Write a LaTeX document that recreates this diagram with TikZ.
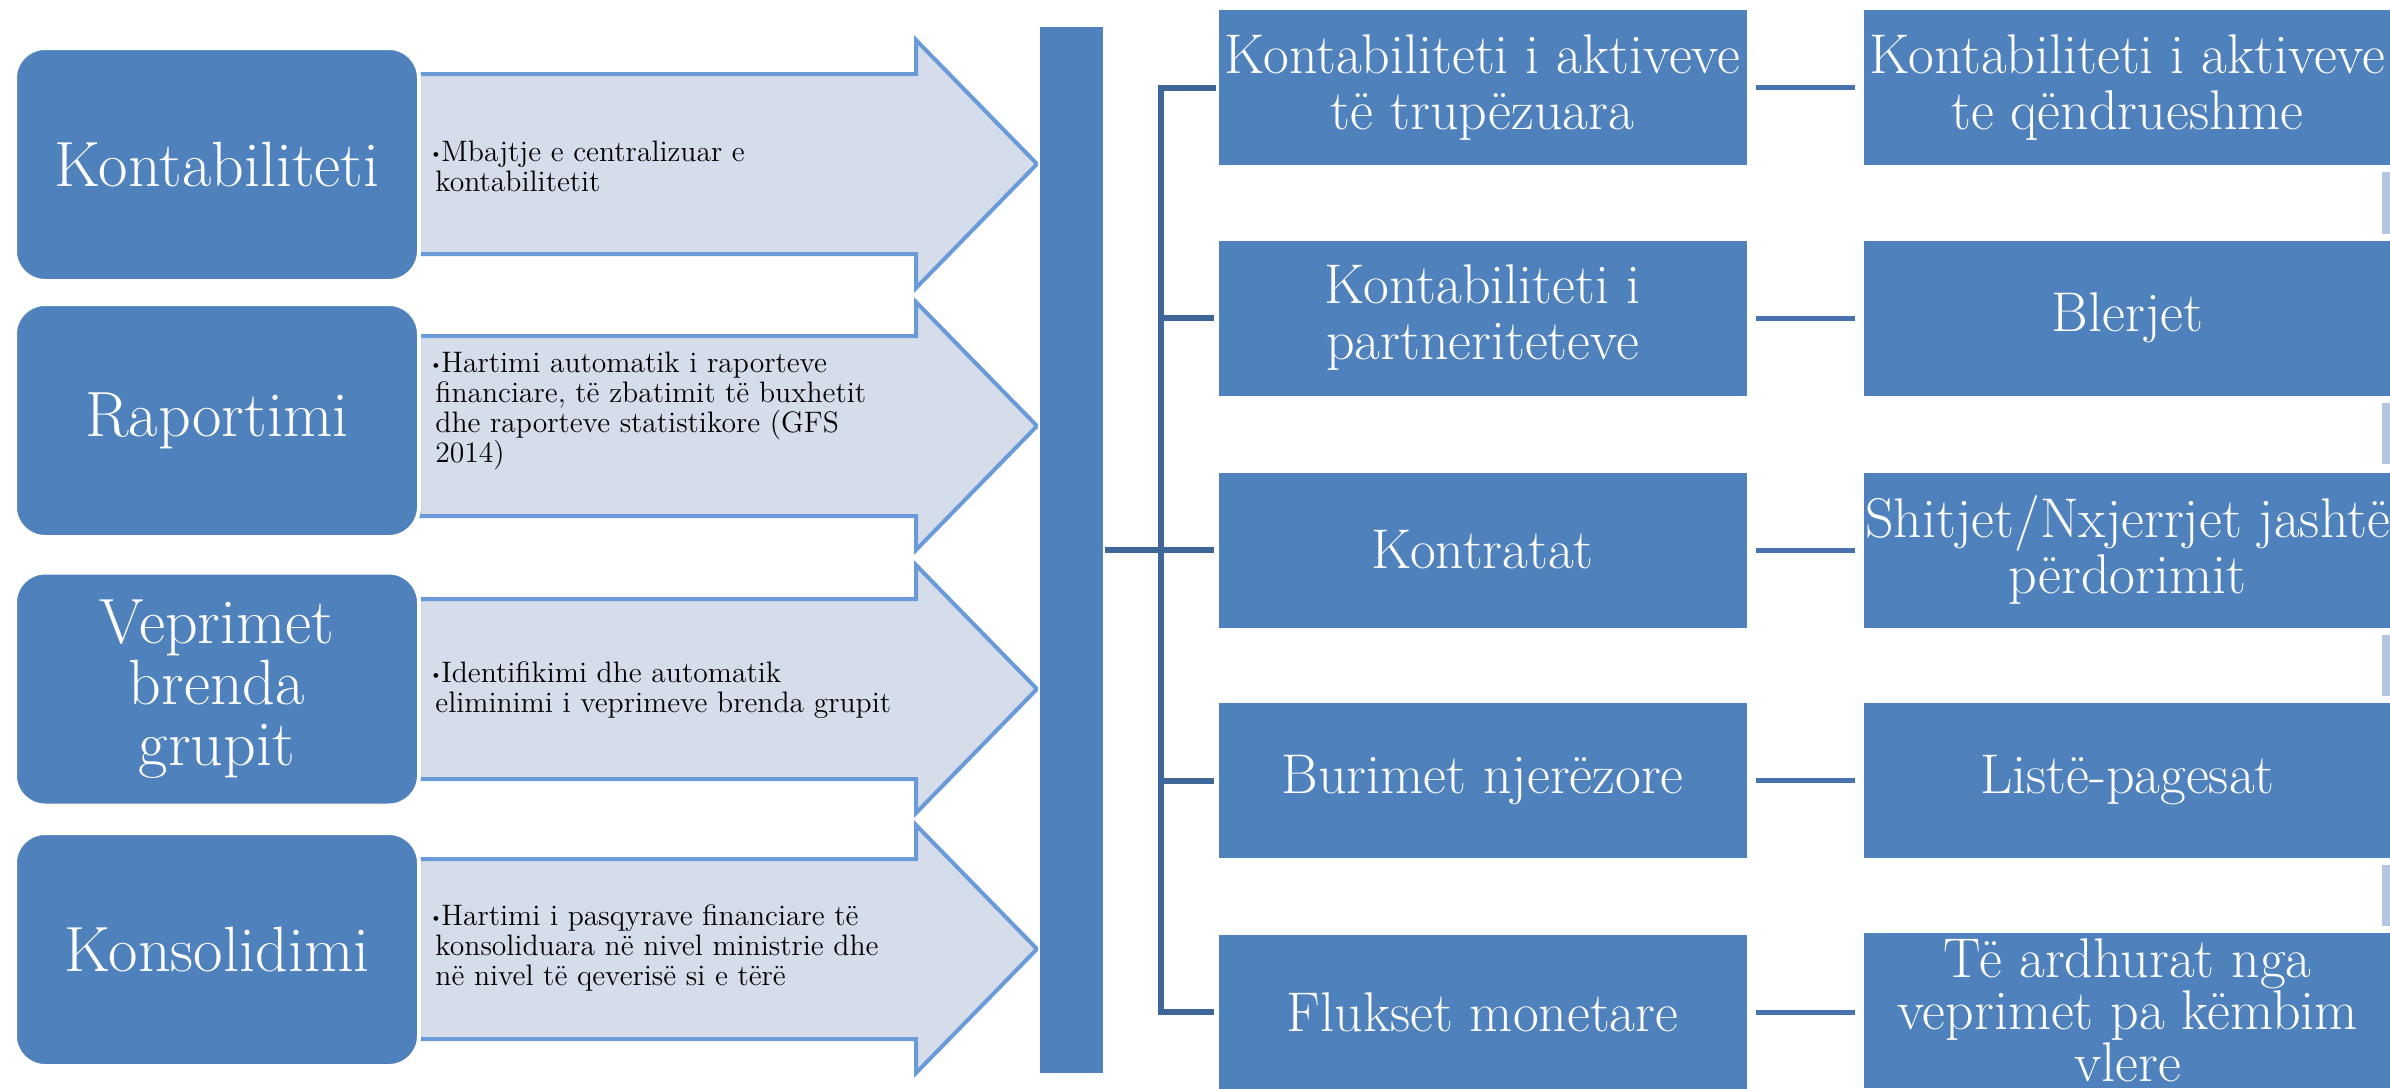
\documentclass[tikz,border=0pt]{standalone}
\usepackage{fontspec}
\definecolor{boxblue}{HTML}{4F81BD}
\definecolor{arrowfill}{HTML}{D5DCEA}
\definecolor{arrowline}{HTML}{6A9BD8}
\definecolor{linkdark}{HTML}{3F6698}
\definecolor{linkmid}{HTML}{4673AE}
\definecolor{faintbar}{HTML}{B4C6E0}
\newcommand\bul{\makebox[6pt][l]{\fontsize{8}{8}\selectfont\raisebox{1.3pt}{\textbullet}}}
\newcommand\ind{\hspace*{3pt}}
\begin{document}
\begin{tikzpicture}[x=0.5pt,y=-0.5pt,
  leftbox/.style={rectangle, rounded corners=15pt, fill=boxblue, draw=white, line width=2pt,
    minimum width=202pt, minimum height=116.5pt, text=white,
    font=\fontsize{32}{30.5}\selectfont, align=center, inner sep=0pt},
  colbox/.style={rectangle, fill=boxblue, draw=white, line width=1.5pt,
    minimum width=265.5pt, minimum height=79pt, text=white,
    font=\fontsize{28}{28}\selectfont, align=center, inner sep=0pt},
  barbox/.style={rectangle, fill=boxblue, draw=white, line width=1pt,
    minimum width=32.5pt, minimum height=524pt, inner sep=0pt},
  arrowshape/.style={fill=arrowfill, draw=arrowline, line width=2pt, line join=miter},
  arrowtext/.style={anchor=west, align=left, font=\fontsize{14.8}{15}\selectfont, inner sep=0pt, text=black},
  tree/.style={draw=linkdark, line width=3pt, shorten >=1pt},
  link/.style={draw=linkmid, line width=2.5pt, shorten <=3pt, shorten >=3pt},
]
\useasboundingbox (0,0) rectangle (2390,1088);
\clip (0,0) rectangle (2390,1088);
\fill[white] (0,0) rectangle (2390,1088);

% block arrows
\foreach \c in {164,426,689,949}{
  \draw[arrowshape] (419,{\c-90}) -- (916,{\c-90}) -- (916,{\c-124}) -- (1037,\c)
    -- (916,{\c+124}) -- (916,{\c+90}) -- (419,{\c+90}) -- cycle;
}

% left rounded boxes
\node[leftbox] (l1) at (217,164.5) {Kontabiliteti};
\node[leftbox] (l2) at (217,420.5) {Raportimi};
\node[leftbox] (l3) at (217,689) {Veprimet\\brenda\\grupit};
\node[leftbox] (l4) at (217,949.5) {Konsolidimi};

% arrow texts
\node[arrowtext] (t1) at (429,166) {\bul Mbajtje e centralizuar e\\\ind kontabilitetit};
\node[arrowtext] (t2) at (429,411) {\bul Hartimi automatik i raporteve\\\ind financiare, të zbatimit të buxhetit\\\ind dhe raporteve statistikore (GFS\\\ind 2014)};
\node[arrowtext] (t3) at (429,690) {\bul Identifikimi dhe automatik\\\ind eliminimi i veprimeve brenda grupit};
\node[arrowtext] (t4) at (429,948) {\bul Hartimi i pasqyrave financiare të\\\ind konsoliduara në nivel ministrie dhe\\\ind në nivel të qeverisë si e tërë};

% central bar
\node[barbox] (bar) at (1071.5,550) {};

% middle column
\node[colbox] (m1) at (1482.5,87.5) {Kontabiliteti i aktiveve\\të trupëzuara};
\node[colbox] (m2) at (1482.5,318) {Kontabiliteti i\\partneriteteve};
\node[colbox] (m3) at (1482.5,550) {Kontratat};
\node[colbox] (m4) at (1482.5,780.5) {Burimet njerëzore};
\node[colbox] (m5) at (1482.5,1012) {Flukset monetare};

% right column
\node[colbox] (r1) at (2127.5,87.5) {Kontabiliteti i aktiveve\\te qëndrueshme};
\node[colbox] (r2) at (2127.5,318) {Blerjet};
\node[colbox] (r3) at (2127.5,550) {Shitjet/Nxjerrjet jashtë\\përdorimit};
\node[colbox] (r4) at (2127.5,780.5) {Listë-pagesat};
\node[colbox, font=\fontsize{28}{26}\selectfont] (r5) at (2127.5,1010) {Të ardhurat nga\\veprimet pa këmbim\\vlere};

% tree connectors
\coordinate (sp) at (1161,0);
\draw[tree, line join=miter] (m1.west) -- (m1.west -| sp) -- (m5.west -| sp) -- (m5.west);
\draw[tree] (m2.west -| sp) -- (m2.west);
\draw[tree] (m4.west -| sp) -- (m4.west);
\draw[tree] (bar.east |- m3.west) -- (m3.west);

% middle to right connectors
\foreach \i in {1,...,5}{
  \draw[link] (m\i.east) -- (r\i.west |- m\i.east);
}

% faint stubs at right edge
\foreach \a/\b in {172/234,403/464,635/696,865/926}{
  \fill[faintbar] (2382,\a) rectangle (2392,\b);
}
\end{tikzpicture}
\end{document}
